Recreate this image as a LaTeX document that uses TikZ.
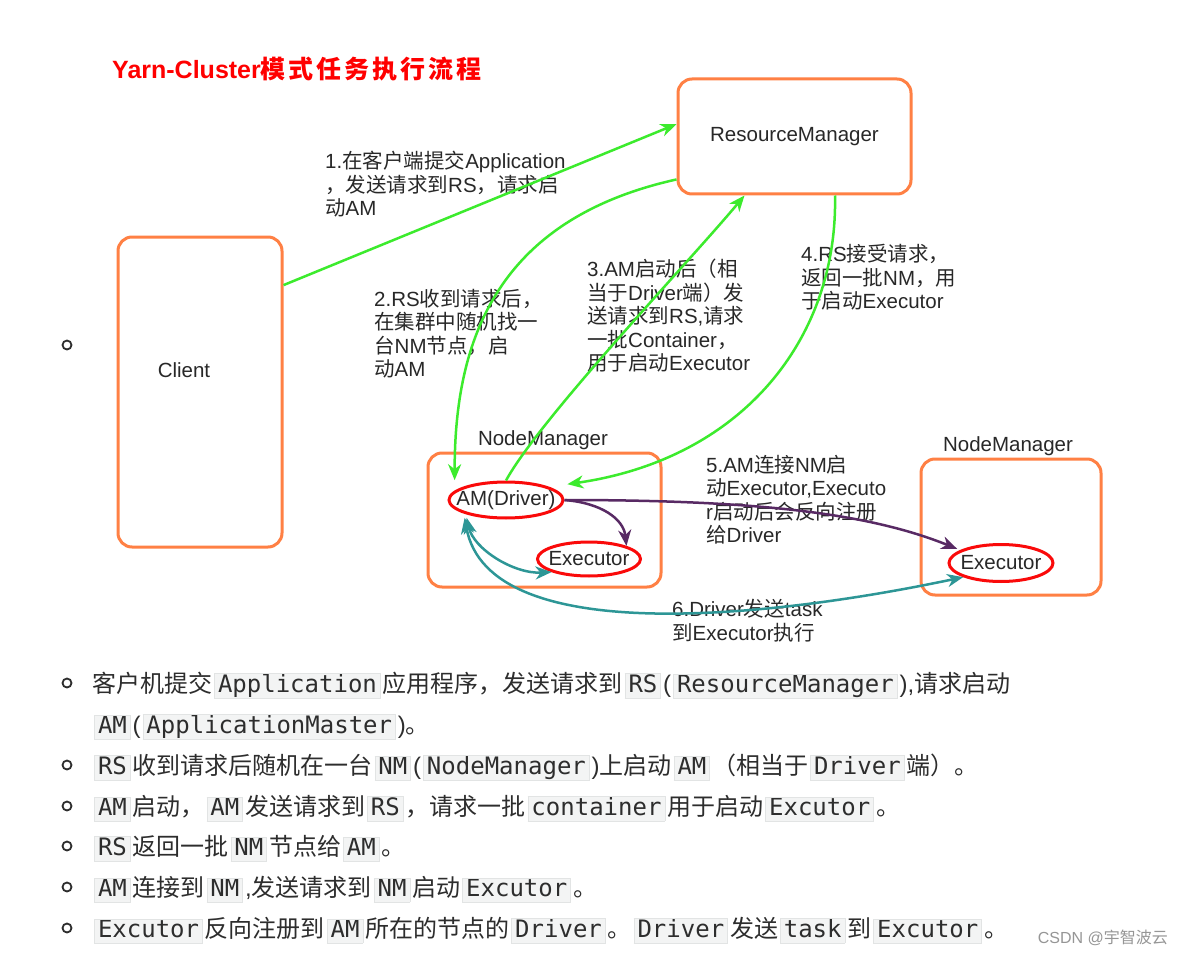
\documentclass[tikz,border=0pt]{standalone}
\usepackage{fontspec}
\usetikzlibrary{arrows.meta,shapes.geometric}
\setmainfont{Liberation Sans}
\setmonofont{DejaVu Sans Mono}
\newfontfamily\zhregular{Noto Sans CJK SC}
\newfontfamily\zhtitle[LetterSpace=12]{Noto Sans CJK SC}
\XeTeXinterchartokenstate=1
\newXeTeXintercharclass\zhclass
\newcount\zhcnt
\def\zhrange#1#2{\zhcnt=#1\relax\loop\XeTeXcharclass\zhcnt=\zhclass\relax\ifnum\zhcnt<#2\relax\advance\zhcnt by 1\relax\repeat}
\zhrange{"3000}{"303F}
\zhrange{"4E00}{"9FFF}
\zhrange{"FF00}{"FFEF}
\let\zhsel\zhregular
\XeTeXinterchartoks 0 \zhclass = {\begingroup\zhsel}
\XeTeXinterchartoks 4095 \zhclass = {\begingroup\zhsel}
\XeTeXinterchartoks \zhclass 0 = {\endgroup}
\XeTeXinterchartoks \zhclass 4095 = {\endgroup}
\definecolor{boxorange}{RGB}{255,128,68}
\definecolor{ellred}{RGB}{250,10,10}
\definecolor{agreen}{RGB}{60,235,45}
\definecolor{apurple}{RGB}{88,42,100}
\definecolor{ateal}{RGB}{45,150,150}
\definecolor{txt}{RGB}{40,40,40}
\definecolor{btxt}{RGB}{45,45,45}
\definecolor{codebg}{RGB}{243,244,244}
\definecolor{codeline}{RGB}{226,228,228}
\definecolor{titlered}{RGB}{255,0,0}
\definecolor{wmark}{RGB}{150,150,150}
\newcommand\cd[1]{\hspace{2pt}{\setlength\fboxsep{0pt}\setlength\fboxrule{0.8pt}\fcolorbox{codeline}{codebg}{\hspace{3pt}\rule[-5.5pt]{0pt}{23pt}\ttfamily #1\hspace{3pt}}}\hspace{2pt}}
\tikzset{
 obox/.style={draw=boxorange, line width=3pt, rounded corners=14pt, inner sep=0pt},
 ell/.style={ellipse, draw=ellred, line width=3pt, inner sep=0pt},
 dtext/.style={text=txt, font=\fontsize{20.5}{23.5}\selectfont, inner sep=0pt},
 steplbl/.style={dtext, align=left, anchor=north west},
 garrow/.style={draw=agreen, line width=2.5pt, -{Stealth[length=16pt,width=13pt,inset=5pt]}},
 parrow/.style={draw=apurple, line width=2.5pt, -{Stealth[length=16pt,width=13pt,inset=5pt]}},
 tarrow/.style={draw=ateal, line width=2.5pt, {Stealth[length=16pt,width=13pt,inset=5pt]}-{Stealth[length=16pt,width=13pt,inset=5pt]}},
 btext/.style={text=btxt, font=\fontsize{24}{30}\selectfont, inner sep=0pt, anchor=base west},
 bulletc/.style={circle, draw=btxt, line width=1.8pt, minimum size=9pt, inner sep=0pt},
}
\begin{document}
\begin{tikzpicture}[x=1pt,y=-1pt]
\fill[white] (0,0) rectangle (1184,955);
\useasboundingbox (0,0) rectangle (1184,955);
% title
\node[anchor=base west, inner sep=0pt, text=titlered, font=\fontsize{25}{30}\selectfont\bfseries] (title) at (112,79) {\let\zhsel\zhtitle Yarn-Cluster模式任务执行流程};
% list bullet for the figure
\node[bulletc] (b0) at (67,345) {};
% boxes
\node[obox, minimum width=164pt, minimum height=310pt] (client) at (200,392) {};
\node[dtext] (clientlbl) at (184,370) {Client};
\node[obox, dtext, minimum width=233pt, minimum height=115pt] (rm) at (794.5,136.5) {ResourceManager};
\node[obox, minimum width=233pt, minimum height=134pt] (nm1) at (544.5,520) {};
\node[dtext] (nm1lbl) at (543,440) {NodeManager};
\node[obox, minimum width=180pt, minimum height=136pt] (nm2) at (1011,527) {};
\node[dtext] (nm2lbl) at (1008,446) {NodeManager};
% ellipses
\node[ell, dtext, minimum width=114pt, minimum height=36pt] (am) at (506,500) {\makebox[0pt]{AM(Driver)}};
\node[ell, dtext, minimum width=103pt, minimum height=34pt] (ex1) at (589,559) {\makebox[0pt]{Executor}};
\node[ell, dtext, minimum width=104pt, minimum height=37pt] (ex2) at (1001,563) {\makebox[0pt]{Executor}};
% step labels
\node[steplbl] (s1) at (325,151) {1.在客户端提交Application\\，发送请求到RS，请求启\\动AM};
\node[steplbl] (s2) at (374,289) {2.RS收到请求后，\\在集群中随机找一\\台NM节点，启\\动AM};
\node[steplbl] (s3) at (587,259) {3.AM启动后（相\\当于Driver端）发\\送请求到RS,请求\\一批Container，\\用于启动Executor};
\node[steplbl] (s4) at (801,244) {4.RS接受请求，\\返回一批NM，用\\于启动Executor};
\node[steplbl] (s5) at (706,455) {5.AM连接NM启\\动Executor,Executo\\r启动后会反向注册\\给Driver};
\node[steplbl] (s6) at (672,599) {6.Driver发送task\\到Executor执行};
% connectors
\draw[garrow] (client.52) -- (rm.174);
\draw[garrow] (rm.200) .. controls +(-180,40) and +(0,-140) .. ([shift={(-10,-6)}]am.north west);
\draw[garrow] (am.north) .. controls +(34,-62) and +(-55,66) .. ([shift={(-50,0)}]rm.south);
\draw[garrow] ([shift={(40.5,0)}]rm.south) .. controls +(3,144) and +(174,-25) .. ([shift={(20,-2)}]am.north east);
\draw[parrow] (am.east) .. controls +(197,0) and +(-87,-35) .. ([shift={(-6,0)}]ex2.north west);
\draw[parrow] (am.east) .. controls +(37,3) and +(-3,-27) .. (ex1.north east);
\draw[tarrow] ([shift={(2,4)}]am.south west) .. controls +(7,31) and +(-38,2) .. (ex1.south west);
\draw[tarrow] ([shift={(0,4)}]am.south west) .. controls +(24,133) and +(-184,39) .. (ex2.south west);
% bullet list
\node[bulletc] (b1) at (67,683) {};
\node[btext] (l1) at (92,692) {客户机提交\cd{Application}应用程序，发送请求到\cd{RS}(\cd{ResourceManager}),请求启动};
\node[btext] (l2) at (92,733) {\cd{AM}(\cd{ApplicationMaster})。};
\node[bulletc] (b3) at (67,765) {};
\node[btext] (l3) at (92,774) {\cd{RS}收到请求后随机在一台\cd{NM}(\cd{NodeManager})上启动\cd{AM}（相当于\cd{Driver}端）。};
\node[bulletc] (b4) at (67,806) {};
\node[btext] (l4) at (92,815) {\cd{AM}启动，\cd{AM}发送请求到\cd{RS}，请求一批\cd{container}用于启动\cd{Excutor}。};
\node[bulletc] (b5) at (67,846) {};
\node[btext] (l5) at (92,855) {\cd{RS}返回一批\cd{NM}节点给\cd{AM}。};
\node[bulletc] (b6) at (67,887) {};
\node[btext] (l6) at (92,896) {\cd{AM}连接到\cd{NM},发送请求到\cd{NM}启动\cd{Excutor}。};
\node[bulletc] (b7) at (67,928) {};
\node[btext] (l7) at (92,937) {\cd{Excutor}反向注册到\cd{AM}所在的节点的\cd{Driver}。\cd{Driver}发送\cd{task}到\cd{Excutor}。};
% watermark
\node[anchor=base east, inner sep=0pt, text=wmark, font=\fontsize{16}{18}\selectfont] (wm) at (1168,943) {CSDN @宇智波云};
\end{tikzpicture}
\end{document}
